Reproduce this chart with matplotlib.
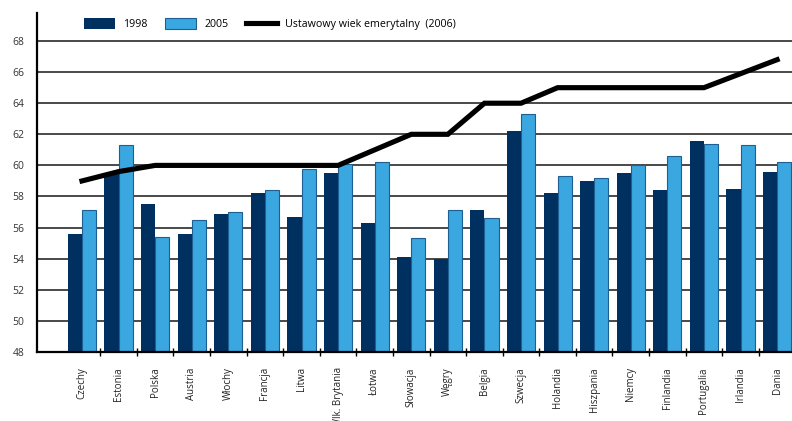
import matplotlib
matplotlib.use("Agg")
import matplotlib.pyplot as plt
import numpy as np

countries = ["Czechy", "Estonia", "Polska", "Austria", "Włochy", "Francja",
             "Litwa", "Wlk. Brytania", "Łotwa", "Słowacja", "Węgry", "Belgia",
             "Szwecja", "Holandia", "Hiszpania", "Niemcy", "Finlandia",
             "Portugalia", "Irlandia", "Dania"]
age_1998 = [55.6, 59.5, 57.5, 55.6, 56.9, 58.2, 56.7, 59.5, 56.3, 54.1,
            54.0, 57.1, 62.2, 58.2, 59.0, 59.5, 58.4, 61.6, 58.5, 59.6]
age_2005 = [57.1, 61.3, 55.4, 56.5, 57.0, 58.4, 59.8, 60.1, 60.2, 55.3,
            57.1, 56.6, 63.3, 59.3, 59.2, 60.0, 60.6, 61.4, 61.3, 60.2]
statutory_2006 = [59.0, 59.6, 60.0, 60.0, 60.0, 60.0, 60.0, 60.0, 61.0, 62.0,
                  62.0, 64.0, 64.0, 65.0, 65.0, 65.0, 65.0, 65.0, 65.9, 66.8]
y_ticks = list(range(48, 69, 2))

DARK = "#00305f"
LIGHT = "#3aa7e0"

plt.rcParams["font.family"] = ["Open Sans", "DejaVu Sans"]

fig = plt.figure(figsize=(7.92, 4.21), dpi=100)
ax = fig.add_axes([0.0467, 0.164, 0.953, 0.805])

x = np.arange(len(countries))
w = 0.385
b1 = ax.bar(x - w / 2, age_1998, w, color=DARK, linewidth=0, zorder=2)
b2 = ax.bar(x + w / 2, age_2005, w, color=LIGHT, edgecolor="#1d5f92",
            linewidth=0.8, zorder=2)
ln, = ax.plot(x, statutory_2006, color="black", lw=3.7,
              solid_capstyle="projecting", solid_joinstyle="miter", zorder=3)

ax.set_ylim(48, 69.8)
ax.set_xlim(-1.23, 19.4)
ax.set_yticks(y_ticks)
ax.set_yticklabels([str(t) for t in y_ticks], fontsize=7.5, color="#333")
ax.tick_params(axis="y", length=0, pad=9)
ax.yaxis.grid(True, color="#2a2a2a", lw=1.2, zorder=0)
ax.set_axisbelow(True)

# category separators as ticks, labels as minor ticks
ax.set_xticks(x[:-1] + 0.5)
ax.set_xticklabels([])
ax.tick_params(axis="x", which="major", direction="inout", length=6,
               width=1, color="black")
ax.set_xticks(x, minor=True)
ax.set_xticklabels(countries, minor=True, rotation=90, fontsize=7, color="#222",
                   va="top", ha="center")
ax.tick_params(axis="x", which="minor", length=0, pad=11)

for side in ["top", "right"]:
    ax.spines[side].set_visible(False)
ax.spines["left"].set_linewidth(1.6)
ax.spines["bottom"].set_linewidth(1.6)

ax.legend([b1, b2, ln], ["1998", "2005", "Ustawowy wiek emerytalny  (2006)"],
          loc="upper left", bbox_to_anchor=(0.055, 1.0), ncol=3,
          frameon=False, fontsize=7.7, handlelength=2.9, handleheight=1.1,
          columnspacing=1.6, handletextpad=0.8, borderaxespad=0.1)

fig.savefig("out.png", dpi=100, facecolor="white")
plt.close()
